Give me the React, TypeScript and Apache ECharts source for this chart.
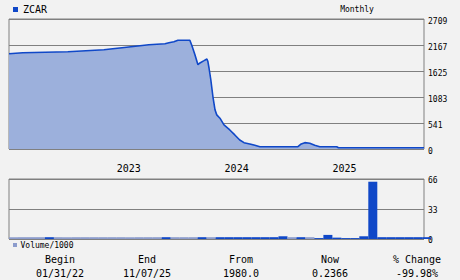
import React, { useEffect, useRef } from "react";
import * as echarts from "echarts";

const START = "2022-01-01";
const END = "2025-11-07";

const priceDates = [
  "2022-01-01", "2022-02-16", "2022-07-18", "2022-09-18", "2022-11-18", "2022-12-18",
  "2023-01-19", "2023-02-17", "2023-03-19", "2023-04-18", "2023-06-12", "2023-06-25",
  "2023-07-12", "2023-07-26", "2023-09-05", "2023-09-12", "2023-09-22", "2023-10-02",
  "2023-10-09", "2023-10-23", "2023-11-02", "2023-11-05", "2023-11-09", "2023-11-15",
  "2023-11-22", "2023-11-29", "2023-12-05", "2023-12-16", "2023-12-30", "2024-01-19",
  "2024-02-05", "2024-02-21", "2024-03-06", "2024-03-26", "2024-04-12", "2024-04-29",
  "2024-09-06", "2024-09-17", "2024-09-29", "2024-10-16", "2024-11-02", "2024-11-19",
  "2024-12-06", "2025-01-16", "2025-01-22", "2025-11-07",
];
const priceValues = [
  1985, 2005, 2026, 2047, 2068, 2089,
  2110, 2131, 2152, 2173, 2194, 2215,
  2236, 2266, 2266, 2150, 1966, 1757,
  1793, 1841, 1876, 1830, 1688, 1443,
  1094, 816, 711, 642, 502, 397,
  293, 188, 132, 105, 77, 48,
  48, 105, 132, 119, 77, 48,
  48, 48, 27, 27,
];

const volumeMonths = [
  "2022-01", "2022-02", "2022-03", "2022-04", "2022-05", "2022-06", "2022-07", "2022-08",
  "2022-09", "2022-10", "2022-11", "2022-12", "2023-01", "2023-02", "2023-03", "2023-04",
  "2023-05", "2023-06", "2023-07", "2023-08", "2023-09", "2023-10", "2023-11", "2023-12",
  "2024-01", "2024-02", "2024-03", "2024-04", "2024-05", "2024-06", "2024-07", "2024-08",
  "2024-09", "2024-10", "2024-11", "2024-12", "2025-01", "2025-02", "2025-03", "2025-04",
  "2025-05", "2025-06", "2025-07", "2025-08", "2025-09", "2025-10", "2025-11",
];
const volumeValues = [
  2, 2, 2, 2, 2, 2, 2, 2,
  2, 2, 2, 2, 2, 2, 2, 2,
  2, 2, 2, 2, 2, 2, 2, 2,
  2, 2, 2, 2, 2, 2, 3, 2,
  2, 2, 1, 4.5, 1.5, 1, 1, 3,
  63, 2, 2, 2, 2, 2, 2,
];
const volumeUp = [
  0, 0, 0, 0, 1, 0, 0, 0,
  0, 0, 0, 0, 0, 0, 0, 0,
  0, 1, 0, 0, 0, 1, 0, 1,
  1, 1, 1, 1, 1, 1, 1, 0,
  1, 0, 1, 1, 1, 1, 1, 1,
  1, 1, 1, 1, 1, 1, 1,
];

const PRICE_MAX = 2709;
const PRICE_STEP = 541.8;
const VOLUME_MAX = 66;
const VOLUME_STEP = 33;
const yearLabels = ["2023", "2024", "2025"];

const statLabels = ["Begin", "End", "From", "Now", "% Change"];
const statValues = ["01/31/22", "11/07/25", "1980.0", "0.2366", "-99.98%"];

const MONO = "'DejaVu Sans Mono', monospace";
const DARK = "#1048c8";
const LIGHT = "#8c9ccc";
const AREA = "#9cb0dc";
const GRID = "#808080";

function monthPos(d: string): number {
  const [y, mo, da] = d.split("-").map(Number);
  const dim = new Date(Date.UTC(y, mo, 0)).getUTCDate();
  return (y - 2022) * 12 + (mo - 1) + ((da || 1) - 1) / dim;
}

export default function App() {
  const ref = useRef<HTMLDivElement>(null);
  useEffect(() => {
    if (!ref.current) return;
    const chart = echarts.init(ref.current, null, { renderer: "svg" });
    const minX = monthPos(START);
    const maxX = monthPos(END);
    const pricePts = priceDates.map((d, i) => [monthPos(d), priceValues[i]]);
    const volPts = volumeMonths.map((m, i) => ({
      value: [monthPos(m + "-01") + 0.5, volumeValues[i]],
      itemStyle: { color: volumeUp[i] ? DARK : LIGHT },
    }));
    const yearPos = yearLabels.map((y) => monthPos(y + "-01-01"));
    const colX = [60, 147, 241, 330, 417];

    const txt = (text: string, x: number, y: number, size: number, align: string) => ({
      type: "text", x, y,
      style: { text, fontSize: size, fontFamily: MONO, fill: "#000", align, verticalAlign: "middle", textAlign: align, textVerticalAlign: "middle" },
    });

    const graphic: any[] = [
      { type: "rect", x: 13, y: 7, shape: { width: 5, height: 5 }, style: { fill: DARK } },
      txt("ZCAR", 23, 9.5, 10, "left"),
      txt("Monthly", 357, 9, 8, "center"),
      { type: "rect", x: 13, y: 243, shape: { width: 4, height: 4 }, style: { fill: LIGHT } },
      txt("Volume/1000", 20.5, 245, 8, "left"),
    ];
    statLabels.forEach((s, i) => {
      graphic.push(txt(s, colX[i], 259, 10, "center"));
      graphic.push(txt(statValues[i], colX[i], 273, 10, "center"));
    });

    chart.setOption({
      animation: false,
      backgroundColor: "#f2f2f2",
      textStyle: { fontFamily: MONO },
      grid: [
        { left: 9, top: 19, width: 415, height: 130, show: true, borderColor: GRID, borderWidth: 1, backgroundColor: "transparent" },
        { left: 9, top: 179, width: 415, height: 60, show: true, borderColor: GRID, borderWidth: 1, backgroundColor: "transparent" },
      ],
      xAxis: [
        {
          type: "value", gridIndex: 0, min: minX, max: maxX,
          axisLine: { show: false }, axisTick: { show: false }, splitLine: { show: false },
          axisLabel: {
            customValues: yearPos,
            formatter: (v: number) => String(2022 + Math.floor(v / 12 + 1e-6)),
            align: "left", margin: 14, fontSize: 10, color: "#000", fontFamily: MONO,
          },
        },
        { type: "value", gridIndex: 1, min: minX, max: maxX, show: false },
      ],
      yAxis: [
        {
          type: "value", gridIndex: 0, position: "right", min: 0, max: PRICE_MAX, interval: PRICE_STEP,
          axisLine: { show: false }, axisTick: { show: false },
          splitLine: { lineStyle: { color: GRID, width: 1 } },
          axisLabel: { margin: 4, fontSize: 8, color: "#000", fontFamily: MONO, verticalAlign: "top", lineHeight: 4, formatter: (v: number) => String(Math.floor(v + 1e-6)) },
        },
        {
          type: "value", gridIndex: 1, position: "right", min: 0, max: VOLUME_MAX, interval: VOLUME_STEP,
          axisLine: { show: false }, axisTick: { show: false },
          splitLine: { lineStyle: { color: GRID, width: 1 } },
          axisLabel: { margin: 4, fontSize: 8, color: "#000", fontFamily: MONO, verticalAlign: "top", lineHeight: 3 },
        },
      ],
      series: [
        {
          type: "line", xAxisIndex: 0, yAxisIndex: 0, data: pricePts,
          symbol: "none", showSymbol: false,
          lineStyle: { color: DARK, width: 1.6 },
          areaStyle: { color: AREA, opacity: 1 },
        },
        {
          type: "bar", xAxisIndex: 1, yAxisIndex: 1, data: volPts, barWidth: 9,
        },
      ],
      graphic,
    });
    return () => chart.dispose();
  }, []);
  return (
    <div
      ref={ref}
      style={{ position: "fixed", left: 0, top: 0, width: 460, height: 280, background: "#f2f2f2" }}
    />
  );
}
